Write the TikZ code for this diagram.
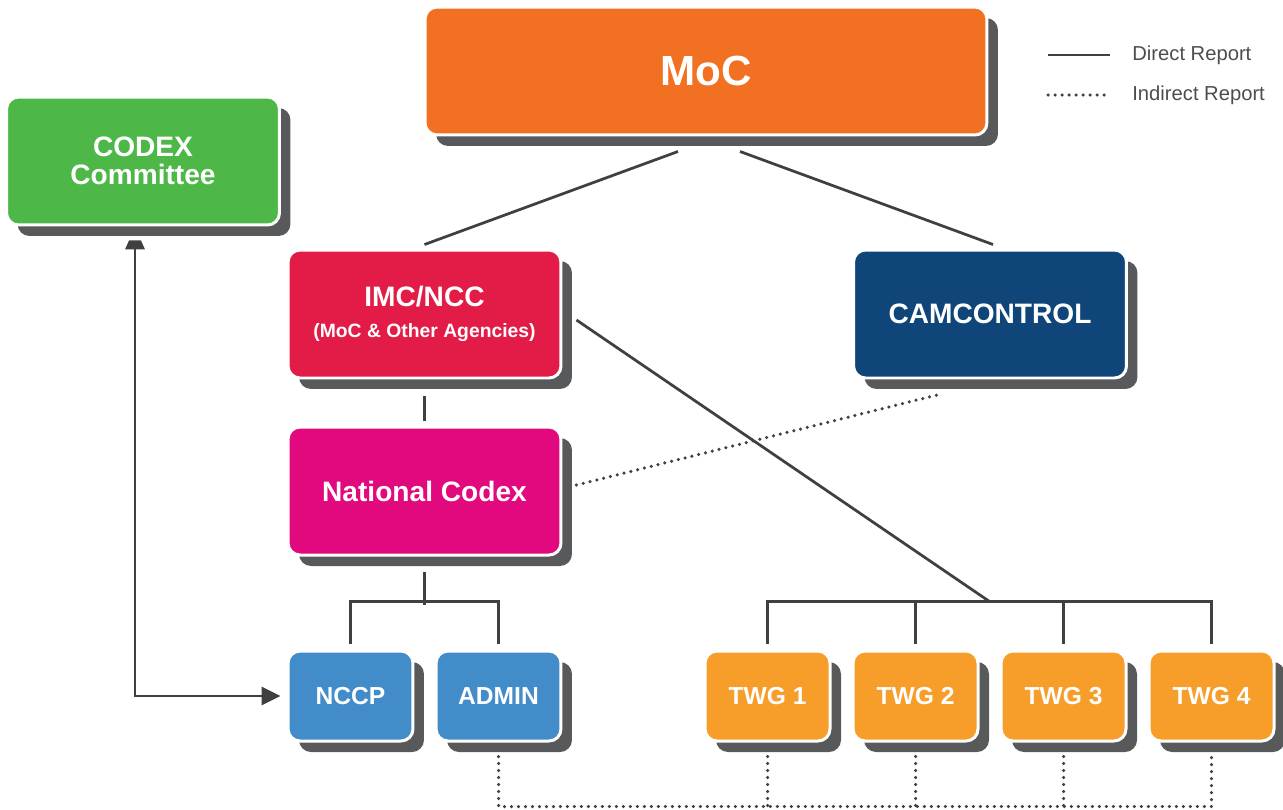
\documentclass[tikz,border=0pt]{standalone}
\usepackage{fontspec}
\setmainfont{Liberation Sans}
\usetikzlibrary{calc,shadows,arrows.meta}

\definecolor{mocorange}{HTML}{F27022}
\definecolor{codexgreen}{HTML}{4DB848}
\definecolor{imcred}{HTML}{E31B47}
\definecolor{camblue}{HTML}{10457A}
\definecolor{natmagenta}{HTML}{E2087E}
\definecolor{nccpblue}{HTML}{438CCA}
\definecolor{twgorange}{HTML}{F79E2A}
\definecolor{shade}{HTML}{58595B}
\definecolor{linegray}{HTML}{404041}
\definecolor{legendgray}{HTML}{4D4D4D}

\begin{document}
\begin{tikzpicture}[x=0.02cm, y=-0.02cm,
  box/.style={rectangle, rounded corners=0.24cm, draw=white, line width=0.06cm,
    text=white, font=\bfseries\fontsize{16}{16}\selectfont, align=center, inner sep=0pt,
    drop shadow={shadow xshift=0.22cm, shadow yshift=-0.22cm, fill=shade, opacity=1}},
  bigbox/.style={box, minimum width=5.46cm, minimum height=2.56cm},
  smallbox/.style={box, minimum width=2.5cm, minimum height=1.8cm,
    font=\bfseries\fontsize{14}{14}\selectfont},
  direct/.style={draw=linegray, line width=0.055cm},
  indirect/.style={draw=linegray, line width=0.07cm, line cap=round,
    dash pattern=on 0pt off 0.14cm},
  legend/.style={anchor=west, inner sep=0pt, text=legendgray,
    font=\fontsize{11.5}{12}\selectfont}]
\useasboundingbox (0,0) rectangle (1283,809);

\node[box, fill=mocorange, minimum width=11.24cm, minimum height=2.56cm,
  font=\bfseries\fontsize{24}{24}\selectfont] (moc) at (706,71) {MoC};
\node[bigbox, fill=codexgreen] (codex) at (143,161) {CODEX\\Committee};
\node[bigbox, fill=imcred] (imc) at (424.5,314)
  {IMC/NCC\\[2pt]{\fontsize{11}{11}\selectfont (MoC \& Other Agencies)}};
\node[bigbox, fill=camblue] (cam) at (990,314) {CAMCONTROL};
\node[bigbox, fill=natmagenta] (national) at (424.5,491) {National Codex};

\node[smallbox, fill=nccpblue] (nccp) at (350.5,696) {NCCP};
\node[smallbox, fill=nccpblue] (admin) at (498.5,696) {ADMIN};
\node[smallbox, fill=twgorange] (twg1) at (767.5,696) {TWG 1};
\node[smallbox, fill=twgorange] (twg2) at (915.5,696) {TWG 2};
\node[smallbox, fill=twgorange] (twg3) at (1063.5,696) {TWG 3};
\node[smallbox, fill=twgorange] (twg4) at (1211.5,696) {TWG 4};

% direct lines
\draw[direct] ($(moc.south)+(-28,15)$) -- ($(imc.north)+(0,-4)$);
\draw[direct] ($(moc.south)+(34,15)$) -- ($(cam.north)+(3,-4)$);
\draw[direct] ($(imc.south)+(0,17)$) -- ($(national.north)+(0,-5)$);
\draw[direct] ($(imc.east)+(14,6)$) -- ($($(twg2.north)!0.5!(twg3.north)$)+(0,-48)$);

\draw[direct] ($(twg1.north)+(0,-6)$) |- ($(twg4.north)+(0,-48)$) -- ($(twg4.north)+(0,-6)$);
\foreach \n in {2,3}
  \draw[direct] ($(twg\n.north)+(0,-6)$) -- ++(0,-42);

\draw[direct] ($(national.south)+(0,15)$) -- ++(0,33);
\draw[direct] ($(nccp.north)+(0,-6)$) |- ($(admin.north)+(0,-48)$) -- ($(admin.north)+(0,-6)$);

% two-way link to the committee
\coordinate (cdxtip) at ($(codex.south)+(-8,14)$);
\draw[direct, -{Triangle[length=0.38cm, width=0.36cm]}]
  ($(cdxtip)+(0,8)$) |- ($(nccp.west)+(-6,0)$);
\fill[linegray] ($(cdxtip)+(-6,0)$) -- ($(cdxtip)+(6,0)$) -- ($(cdxtip)+(10,9)$)
  -- ($(cdxtip)+(-10,9)$) -- cycle;

% indirect lines
\draw[indirect] ($(national.east)+(14,-6)$) -- ($(cam.south)+(-47,14)$);
\draw[indirect] ($(admin.south)+(0,14)$) -- ++(0,50) -| ($(twg4.south)+(0,14)$);
\foreach \n in {1,2,3}
  \draw[indirect] ($(twg\n.south)+(0,14)$) -- ++(0,50);

% legend
\node[legend] (ldirect) at (1132,55) {Direct Report};
\node[legend] (lindirect) at (1132,95) {Indirect Report};
\draw[direct] ($(ldirect.west)+(-84,0)$) -- ++(62,0);
\draw[indirect] ($(lindirect.west)+(-84,0)$) -- ++(62,0);
\end{tikzpicture}
\end{document}
